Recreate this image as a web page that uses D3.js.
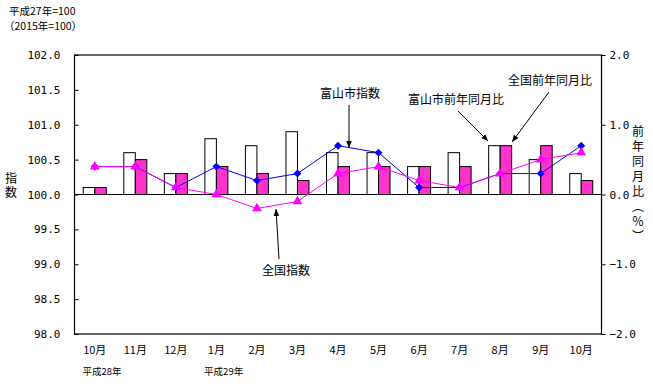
<!DOCTYPE html>
<html><head><meta charset="utf-8">
<script src="https://cdn.jsdelivr.net/npm/d3@7"></script>
<style>
body{margin:0;background:#fff;}
svg{display:block;}
</style></head>
<body>
<svg id="c" width="653" height="391"></svg>
<script>
const months = ["10月","11月","12月","1月","2月","3月","4月","5月","6月","7月","8月","9月","10月"];
const toyamaIndex   = [100.4,100.4,100.1,100.4,100.2,100.3,100.7,100.6,100.1,100.1,100.3,100.3,100.7];
const nationalIndex = [100.4,100.4,100.1,100.0,99.8,99.9,100.3,100.4,100.2,100.1,100.3,100.5,100.6];
const toyamaYoY     = [0.1,0.6,0.3,0.8,0.7,0.9,0.6,0.6,0.4,0.6,0.7,0.5,0.3];
const nationalYoY   = [0.1,0.5,0.3,0.4,0.3,0.2,0.4,0.4,0.4,0.4,0.7,0.7,0.2];
const leftTicks  = [98.0,98.5,99.0,99.5,100.0,100.5,101.0,101.5,102.0];
const rightTicks = [-2.0,-1.0,0.0,1.0,2.0];
const yearLabels = [{i:0,t:"平成28年"},{i:3,t:"平成29年"}];

const svg = d3.select("#c");
const L=74.5, R=601.5, T=55, B=334;
const cjk = "'Noto Sans CJK JP','Noto Sans',sans-serif";
const mono = "'DejaVu Sans Mono','Liberation Mono',monospace";

const x = d3.scaleBand().domain(d3.range(months.length)).range([L,R]);
const yL = d3.scaleLinear().domain([98,102]).range([B,T]);
const yR = d3.scaleLinear().domain([-2,2]).range([B,T]);
const bw = 11.5;

// bars
const g = svg.append("g");
g.selectAll(".bt").data(toyamaYoY).join("rect")
  .attr("x",(d,i)=>x(i)+x.bandwidth()/2-bw)
  .attr("y",d=>yR(d)).attr("width",bw).attr("height",d=>yR(0)-yR(d))
  .attr("fill","#fff").attr("stroke","#000").attr("stroke-width",1);
g.selectAll(".bn").data(nationalYoY).join("rect")
  .attr("x",(d,i)=>x(i)+x.bandwidth()/2)
  .attr("y",d=>yR(d)).attr("width",bw).attr("height",d=>yR(0)-yR(d))
  .attr("fill","#FF33CC").attr("stroke","#000").attr("stroke-width",1);

// frame
svg.append("rect").attr("x",L).attr("y",T).attr("width",R-L).attr("height",B-T)
  .attr("fill","none").attr("stroke","#000").attr("stroke-width",1.2);
svg.append("line").attr("x1",L).attr("x2",R).attr("y1",yR(0)).attr("y2",yR(0))
  .attr("stroke","#000").attr("stroke-width",1.2);

// left axis
const la = svg.append("g").attr("transform",`translate(${L},0)`)
  .call(d3.axisLeft(yL).tickValues(leftTicks).tickFormat(d3.format(".1f")).tickSize(-4).tickPadding(14));
la.select(".domain").remove();
la.selectAll("text").attr("font-family",mono).attr("font-size",11).attr("fill","#000");
// right axis
const ra = svg.append("g").attr("transform",`translate(${R},0)`)
  .call(d3.axisRight(yR).tickValues(rightTicks).tickFormat(d3.format(".1f")).tickSize(4).tickPadding(4));
ra.select(".domain").remove();
ra.selectAll("text").attr("font-family",mono).attr("font-size",11).attr("fill","#000");

// x axis labels
const xa = svg.append("g").attr("transform",`translate(0,${B})`)
  .call(d3.axisBottom(x).tickFormat(i=>months[i]).tickSize(0).tickPadding(12));
xa.select(".domain").remove();
xa.selectAll("text").attr("font-family",cjk).attr("font-size",11).attr("fill","#000");

svg.selectAll(".yr").data(yearLabels).join("text")
  .attr("x",d=>x(d.i)+8).attr("y",375).text(d=>d.t)
  .attr("font-family",cjk).attr("font-size",9.5).attr("fill","#000");

// lines
const lineL = d3.line().x((d,i)=>x(i)+x.bandwidth()/2).y(d=>yL(d));
svg.append("path").datum(toyamaIndex).attr("d",lineL).attr("fill","none").attr("stroke","#0000FF").attr("stroke-width",1);
svg.selectAll(".dm").data(toyamaIndex).join("path")
  .attr("d",d3.symbol(d3.symbolDiamond2,40))
  .attr("transform",(d,i)=>`translate(${x(i)+x.bandwidth()/2},${yL(d)})`)
  .attr("fill","#0000FF");
svg.append("path").datum(nationalIndex).attr("d",lineL).attr("fill","none").attr("stroke","#FF00FF").attr("stroke-width",1);
svg.selectAll(".tr").data(nationalIndex).join("path")
  .attr("d",d3.symbol(d3.symbolTriangle,42))
  .attr("transform",(d,i)=>`translate(${x(i)+x.bandwidth()/2},${yL(d)})`)
  .attr("fill","#FF00FF");

// annotations
const defs = svg.append("defs");
defs.append("marker").attr("id","ah").attr("viewBox","0 0 10 10").attr("refX",10).attr("refY",5)
  .attr("markerWidth",7).attr("markerHeight",7).attr("orient","auto-start-reverse")
  .append("path").attr("d","M0,1 L10,5 L0,9 Z").attr("fill","#000");
const anns = [
  {t:"富山市指数", tx:320, ty:98, x1:349, y1:105, x2:349, y2:148},
  {t:"全国指数", tx:262, ty:275, x1:279, y1:259, x2:276, y2:209},
  {t:"富山市前年同月比", tx:408, ty:104, x1:458, y1:111, x2:488, y2:141},
  {t:"全国前年同月比", tx:508, ty:85, x1:549, y1:92, x2:512, y2:142}
];
anns.forEach(a=>{
  svg.append("line").attr("x1",a.x1).attr("y1",a.y1).attr("x2",a.x2).attr("y2",a.y2)
    .attr("stroke","#000").attr("stroke-width",1).attr("marker-end","url(#ah)");
  svg.append("text").attr("x",a.tx).attr("y",a.ty).text(a.t)
    .attr("font-family",cjk).attr("font-size",12).attr("fill","#000");
});

// top-left notes
svg.append("text").attr("x",9).attr("y",15).text("平成27年=100").attr("font-family",cjk).attr("font-size",10.5);
svg.append("text").attr("x",4).attr("y",30).text("（2015年=100）").attr("font-family",cjk).attr("font-size",10.5);

// axis titles (vertical)
svg.append("text").attr("x",11).attr("y",172).text("指数")
  .attr("font-family",cjk).attr("font-size",12)
  .style("writing-mode","vertical-rl").style("letter-spacing","2px");
svg.append("text").attr("x",638).attr("y",125).text("前年同月比（％）")
  .attr("font-family",cjk).attr("font-size",12)
  .style("writing-mode","vertical-rl").style("letter-spacing","3px");
</script>
</body></html>
